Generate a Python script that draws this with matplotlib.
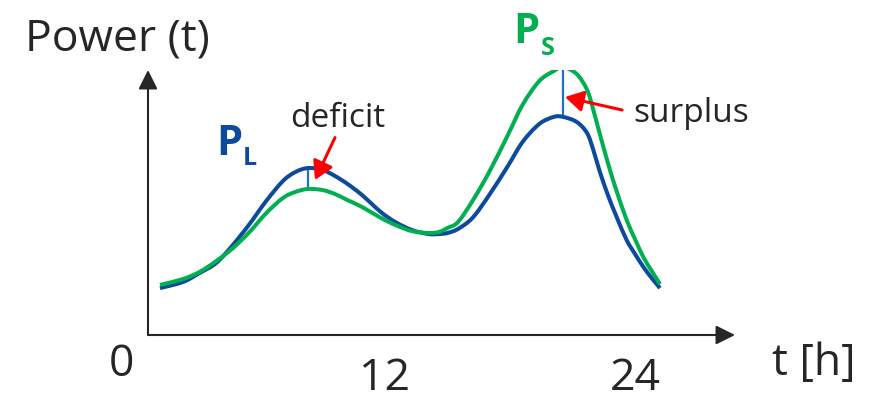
import matplotlib
matplotlib.use("Agg")
import matplotlib.pyplot as plt
from matplotlib.path import Path
from matplotlib.patches import PathPatch

plt.rcParams["font.family"] = ["Open Sans", "DejaVu Sans"]

W, H = 879, 396

# Daily profiles, hours vs. power (arbitrary units)
hours = [1.2, 2.3, 3.1, 3.9, 4.7, 5.5, 6.3, 7.1, 7.7, 8.3,
         9.0, 9.6, 10.2, 10.9, 11.8, 12.5, 13.3, 14.1, 14.6, 15.0,
         15.5, 16.2, 17.0, 17.9, 18.6, 19.4, 20.1, 20.55, 21.2, 21.7,
         22.0, 22.3, 22.7, 23.1, 23.6, 24.0, 24.4, 24.8, 25.2]

p_load = [1.77, 2.00, 2.34, 2.72, 3.40, 4.19, 5.06, 5.81, 6.15, 6.30,
          6.23, 6.00, 5.70, 5.28, 4.64, 4.26, 3.96, 3.81, 3.81, 3.85,
          4.00, 4.42, 5.28, 6.38, 7.28, 7.96, 8.23, 8.23, 8.04, 7.62,
          6.98, 6.19, 5.28, 4.49, 3.58, 3.06, 2.57, 2.15, 1.77]

p_supply = [1.89, 2.11, 2.38, 2.79, 3.28, 3.89, 4.60, 5.17, 5.40, 5.51,
            5.47, 5.32, 5.09, 4.83, 4.42, 4.15, 3.92, 3.85, 3.89, 4.04,
            4.26, 5.06, 6.15, 7.55, 8.68, 9.58, 9.96, 10.11, 9.85, 9.25,
            8.49, 7.62, 6.49, 5.47, 4.34, 3.62, 2.94, 2.42, 1.92]

deficit_hour = 8.3
surplus_hour = 20.55

BLUE = "#0B4A9C"
GREEN = "#00B050"
DIFF = "#1F6FD0"
INK = "#262626"


def fpos(x, y):
    return x / W, 1 - y / H


def smooth_path(xs, ys):
    # Catmull-Rom through the points, expressed as cubic Bezier segments
    pts = list(zip(xs, ys))
    n = len(pts)
    verts = [pts[0]]
    codes = [Path.MOVETO]
    for i in range(n - 1):
        p0 = pts[max(i - 1, 0)]
        p1 = pts[i]
        p2 = pts[i + 1]
        p3 = pts[min(i + 2, n - 1)]
        c1 = (p1[0] + (p2[0] - p0[0]) / 6, p1[1] + (p2[1] - p0[1]) / 6)
        c2 = (p2[0] - (p3[0] - p1[0]) / 6, p2[1] - (p3[1] - p1[1]) / 6)
        verts += [c1, c2, p2]
        codes += [Path.CURVE4] * 3
    return Path(verts, codes)


fig = plt.figure(figsize=(W / 100, H / 100), dpi=100)
ax = fig.add_axes([148 / W, 61 / H, (735 - 148) / W, 265 / H])
ax.set_xlim(0.624, 28.8)
ax.set_ylim(0, 10)
ax.axis("off")

# axes drawn as arrows
arrow_kw = dict(arrowstyle="-|>,head_length=0.58,head_width=0.29",
                mutation_scale=20, color=INK, lw=1.5, shrinkA=0, shrinkB=0)
ax.annotate("", xy=(1, 0), xytext=(0, 0), xycoords="axes fraction",
            arrowprops=arrow_kw, annotation_clip=False)
ax.annotate("", xy=(0, 1), xytext=(0, 0), xycoords="axes fraction",
            arrowprops=arrow_kw, annotation_clip=False)

for ys, col in ((p_load, BLUE), (p_supply, GREEN)):
    ax.add_patch(PathPatch(smooth_path(hours, ys), facecolor="none",
                           edgecolor=col, lw=2.9, capstyle="butt", zorder=3))

# deficit / surplus bars between the two curves
for h in (deficit_hour, surplus_hour):
    i = hours.index(h)
    ax.plot([h, h], [p_load[i], p_supply[i]], color=DIFF, lw=1.6, zorder=2)

red_kw = dict(arrowstyle="-|>,head_length=0.55,head_width=0.32",
              mutation_scale=20, color="#FF0000", lw=2.2, shrinkA=0, shrinkB=0)
ax.annotate("", xy=(8.64, 5.85), xytext=(9.6, 7.45), arrowprops=red_kw)
ax.annotate("", xy=(20.64, 8.98), xytext=(23.38, 8.49), arrowprops=red_kw)

fs = 32
fig.text(*fpos(25, 50), "Power (t)", fontsize=fs, color=INK, va="baseline")
fig.text(*fpos(121, 376), "0", fontsize=fs, color=INK, ha="center", va="baseline")
fig.text(*fpos(385, 390), "12", fontsize=fs, color=INK, ha="center", va="baseline")
fig.text(*fpos(635, 390), "24", fontsize=fs, color=INK, ha="center", va="baseline")
fig.text(*fpos(772, 375), "t [h]", fontsize=fs, color=INK, va="baseline")
fig.text(*fpos(290, 127), "deficit", fontsize=24, color=INK, va="baseline")
fig.text(*fpos(633, 122), "surplus", fontsize=24, color=INK, va="baseline")

fig.text(*fpos(216, 155), "P", fontsize=30, color=BLUE, weight="bold", va="baseline")
fig.text(*fpos(243, 165), "L", fontsize=18, color=BLUE, weight="bold", va="baseline")
fig.text(*fpos(513, 43), "P", fontsize=30, color=GREEN, weight="bold", va="baseline")
fig.text(*fpos(541, 55), "S", fontsize=18, color=GREEN, weight="bold", va="baseline")

fig.savefig("out.png", dpi=100, facecolor="white")
